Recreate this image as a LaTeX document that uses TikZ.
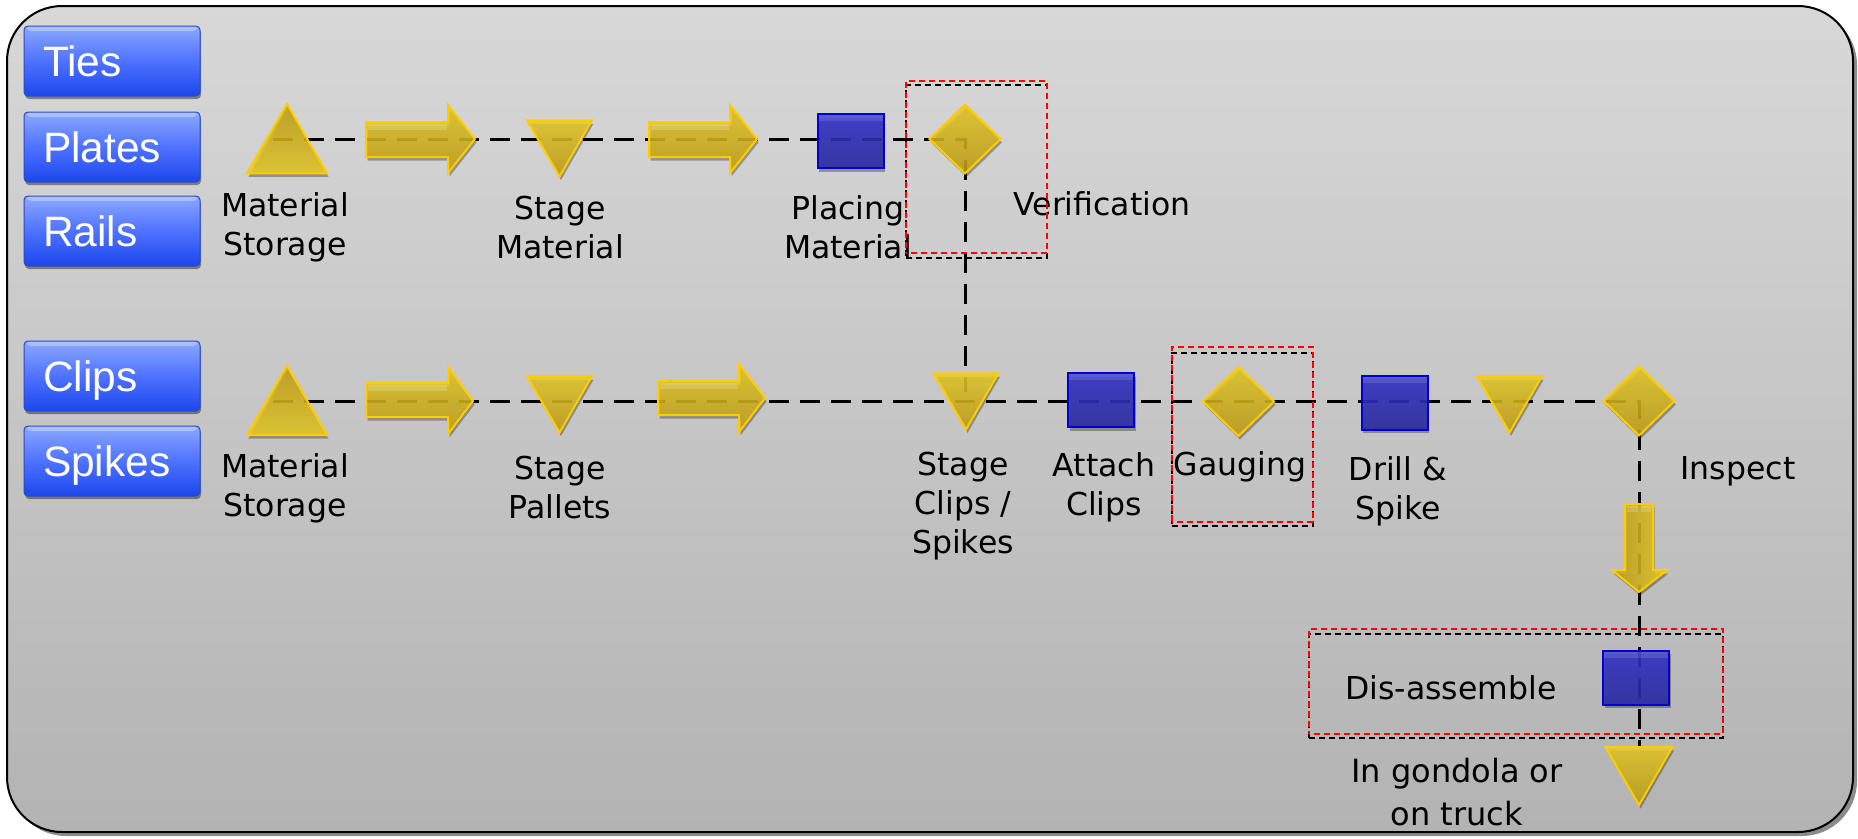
\documentclass[tikz,border=0pt]{standalone}
\usepackage{fontspec}
\setmainfont{DejaVu Sans}
\newfontfamily\btnfont{Liberation Sans}
\usetikzlibrary{shapes.geometric,shadows}

\definecolor{goldlight}{HTML}{E8CD26}
\definecolor{golddark}{HTML}{C4A116}
\definecolor{goldedge}{HTML}{FFCC00}
\definecolor{sqtop}{HTML}{3434CE}
\definecolor{sqbot}{HTML}{2A2AA2}
\definecolor{sqedge}{HTML}{0000D4}
\definecolor{btntop}{HTML}{8CA8FF}
\definecolor{btnmid}{HTML}{4E72FF}
\definecolor{btnbot}{HTML}{1C46EC}
\definecolor{btnedge}{HTML}{2A4BC8}
\definecolor{bgtop}{HTML}{D8D8D8}
\definecolor{bgbot}{HTML}{B3B3B3}

\pgfdeclarelayer{panel}
\pgfdeclarelayer{lines}
\pgfsetlayers{panel,lines,main}

\begin{document}
\begin{tikzpicture}[x=1pt,y=-1pt,
  shade drop/.style={drop shadow={shadow xshift=1.5pt, shadow yshift=-3.5pt, opacity=0.3, fill=black}},
  gold/.style={top color=goldlight, bottom color=golddark, draw=goldedge,
    line width=2pt, fill opacity=0.85, shade drop},
  triup/.style={regular polygon, regular polygon sides=3, inner sep=0pt, outer sep=0pt,
    minimum size=92.4pt, gold, top color=golddark, bottom color=goldlight},
  tridown/.style={regular polygon, regular polygon sides=3, shape border rotate=180,
    inner sep=0pt, outer sep=0pt, minimum size=75pt, gold},
  diam/.style={diamond, inner sep=0pt, outer sep=0pt, minimum width=71pt,
    minimum height=69pt, gold},
  bsq/.style={rectangle, inner sep=0pt, outer sep=0pt, minimum width=66pt,
    minimum height=54pt, top color=sqtop, bottom color=sqbot, draw=sqedge,
    line width=2pt, fill opacity=0.88, shade drop,
    path picture={\fill[white, opacity=0.12] (path picture bounding box.north west)
      rectangle ([yshift=-7pt]path picture bounding box.north east);}},
  goldarrow/.style={gold},
  gloss/.style={fill=white, opacity=0.18},
  btn/.style={rectangle, rounded corners=4pt, draw=btnedge, line width=1pt,
    top color=btntop, bottom color=btnbot, middle color=btnmid,
    minimum width=176pt, minimum height=70pt, text width=138pt, inner xsep=19pt,
    align=left, text height=31pt, text depth=0pt, text=white,
    font=\btnfont\fontsize{42.5pt}{48pt}\selectfont,
    drop shadow={shadow xshift=1pt, shadow yshift=-3pt, opacity=0.4, fill=black},
    path picture={\fill[white, opacity=0.3] ([xshift=3pt]path picture bounding box.north west)
      rectangle ([xshift=-3pt,yshift=-5pt]path picture bounding box.north east);}},
  flow/.style={line width=3pt, dash pattern=on 20pt off 11pt, black},
  blkbox/.style={rectangle, draw=black, line width=2pt, dash pattern=on 6pt off 4pt,
    inner sep=0pt, outer sep=0pt},
  redbox/.style={rectangle, draw=red, line width=2pt, dash pattern=on 6pt off 4pt,
    dash phase=5pt, inner sep=0pt, outer sep=0pt},
  lbl/.style={font=\fontsize{31.5pt}{39pt}\selectfont, align=center, inner sep=0pt,
    anchor=north, text=black}
]
\useasboundingbox (0,0) rectangle (1858,838);

% panel with its shadow
\begin{pgfonlayer}{panel}
\fill[black!45, rounded corners=55pt] (11,10) rectangle (1857,836);
\draw[line width=2pt, top color=bgtop, bottom color=bgbot, rounded corners=55pt]
  (7,6) rectangle (1853,832);
\end{pgfonlayer}

% material buttons
\node[btn] (ties)   at (112,61)  {Ties};
\node[btn] (plates) at (112,147) {Plates};
\node[btn] (rails)  at (112,231) {Rails};
\node[btn] (clips)  at (112,376) {Clips};
\node[btn] (spikes) at (112,461) {Spikes};

% process symbols
\coordinate (r1s) at (273,139);
\coordinate (r2s) at (273,401);
\node[triup]   (ms1)   at (287,150.2)  {};
\node[tridown] (sm)    at (559.5,139)  {};
\node[bsq]     (pm)    at (850.5,141)  {};
\node[diam]    (verif) at (965,139)    {};

\node[triup]   (ms2)   at (287,412)    {};
\node[tridown] (sp)    at (559.5,395)  {};
\node[tridown] (sc)    at (966,392)    {};
\node[bsq]     (ac)    at (1101,400)   {};
\node[diam]    (gauge) at (1238.5,401.5) {};
\node[bsq]     (ds)    at (1394.5,402.5) {};
\node[tridown] (st)    at (1509.5,395) {};
\node[diam]    (insp)  at (1639,401)   {};
\node[bsq]     (dis)   at (1636,677.5) {};
\node[tridown, minimum size=77.4pt] (gond) at (1639,766.3) {};

% flow lines, seen through the symbols
\begin{pgfonlayer}{lines}
\draw[flow] (r1s) -- (verif.center) -- (verif.center |- sc.center);
\draw[flow] (r2s) -- (insp.center) -- (insp.center |- gond.north);
\end{pgfonlayer}

% transport arrows
\path[goldarrow] (366,122) -- (448,122) -- (448,105) -- (475,139) -- (448,173)
  -- (448,157) -- (366,157) -- cycle;
\fill[gloss] (368,124) rectangle (447,130);
\path[goldarrow] (649,122) -- (730,122) -- (730,105) -- (757,139) -- (730,173)
  -- (730,157) -- (649,157) -- cycle;
\fill[gloss] (651,124) rectangle (729,130);
\path[goldarrow] (366,383) -- (448,383) -- (448,367) -- (473,401) -- (448,434)
  -- (448,417) -- (366,417) -- cycle;
\fill[gloss] (368,385) rectangle (447,391);
\path[goldarrow] (658,381) -- (739,381) -- (739,364) -- (765,398) -- (739,432)
  -- (739,415) -- (658,415) -- cycle;
\fill[gloss] (660,383) rectangle (738,389);
\path[goldarrow, left color=golddark, right color=goldlight]
  (1625,504) -- (1653,504) -- (1653,570) -- (1667,570) -- (1639,592)
  -- (1612,570) -- (1625,570) -- cycle;
\fill[gloss] (1627,506) rectangle (1651,512);

% labels
\node[lbl] (l-ms1) at (285,192)  {Material\\Storage};
\node[lbl] (l-sm)  at (560,196)  {Stage\\Material};
\node[lbl] (l-pm)  at (848,195)  {Placing\\Material};
\node[lbl] (l-ver) at (1102,191) {Verification};
\node[lbl] (l-ms2) at (285,453)  {Material\\Storage};
\node[lbl] (l-sp)  at (560,456)  {Stage\\Pallets};
\node[lbl] (l-sc)  at (963,452)  {Stage\\Clips /\\Spikes};
\node[lbl] (l-ac)  at (1104,452) {Attach\\Clips};
\node[lbl] (l-ga)  at (1240,451) {Gauging};
\node[lbl] (l-ds)  at (1398,456) {Drill \&\\Spike};
\node[lbl] (l-in)  at (1738,456) {Inspect};
\node[lbl] (l-dis) at (1451,675) {Dis-assemble};
\node[lbl, font=\fontsize{32pt}{42.5pt}\selectfont] (l-gon) at (1457,758) {In gondola or\\on truck};

% check zones
\node[blkbox, minimum width=141pt, minimum height=173pt] (vbk) at (976.5,171.5) {};
\node[redbox, minimum width=141pt, minimum height=172pt] (vrd) at (976.5,167)   {};
\node[blkbox, minimum width=141pt, minimum height=173pt] (gbk) at (1242.5,439.5) {};
\node[redbox, minimum width=141pt, minimum height=175pt] (grd) at (1242.5,434.5) {};
\node[blkbox, minimum width=414pt, minimum height=104pt] (dbk) at (1516,686)   {};
\node[redbox, minimum width=414pt, minimum height=105pt] (drd) at (1516,681.5) {};
\end{tikzpicture}
\end{document}
